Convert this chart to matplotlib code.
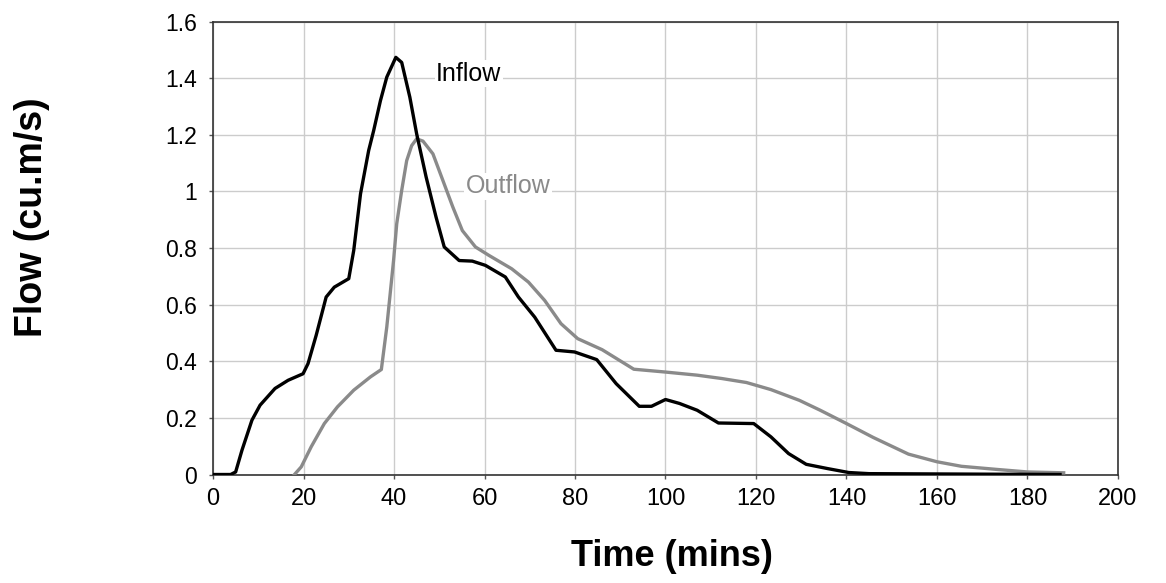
import matplotlib
matplotlib.use("Agg")
import matplotlib.pyplot as plt

# Inflow hydrograph (time in mins, flow in cu.m/s)
inflow_t = [0, 3.9, 5.0, 6.4, 8.6, 10.4, 13.7, 16.6, 19.9, 21.0, 22.8, 25.0, 26.8, 30.0,
            31.1, 32.6, 34.4, 35.5, 37.0, 38.4, 40.4, 41.7, 43.5, 45.0, 47.1, 49.3, 51.1,
            54.4, 57.3, 60.2, 64.6, 67.5, 71.1, 75.8, 79.9, 84.8, 89.1, 94.2, 96.9, 100.0,
            103.1, 107.0, 111.7, 119.5, 123.3, 127.2, 131.1, 135.8, 140.5, 145.0, 187.2]
inflow_q = [0, 0, 0.009, 0.086, 0.192, 0.245, 0.304, 0.333, 0.356, 0.392, 0.492, 0.627, 0.662, 0.692,
            0.792, 0.992, 1.145, 1.215, 1.321, 1.404, 1.474, 1.456, 1.333, 1.204, 1.051, 0.909, 0.804,
            0.756, 0.754, 0.739, 0.698, 0.627, 0.556, 0.439, 0.433, 0.406, 0.321, 0.241, 0.241, 0.265,
            0.251, 0.227, 0.182, 0.180, 0.133, 0.074, 0.036, 0.021, 0.007, 0.003, 0.0]

# Outflow hydrograph
outflow_t = [18.0, 19.5, 21.7, 24.6, 27.5, 31.1, 34.8, 37.2, 38.4, 39.9, 40.6, 41.7, 42.8, 43.9,
             45.0, 46.4, 48.6, 50.8, 53.0, 55.1, 58.0, 61.0, 66.0, 69.7, 73.3, 76.9, 80.6, 86.0,
             93.0, 100.0, 107.0, 112.5, 117.9, 123.3, 129.6, 134.2, 140.0, 145.9, 153.7, 160.0,
             165.4, 173.2, 180.0, 188.0]
outflow_q = [0, 0.027, 0.098, 0.18, 0.239, 0.298, 0.345, 0.371, 0.521, 0.756, 0.886, 1.004, 1.109, 1.162,
             1.186, 1.178, 1.133, 1.039, 0.945, 0.862, 0.804, 0.774, 0.727, 0.68, 0.615, 0.533, 0.48, 0.441,
             0.372, 0.362, 0.351, 0.339, 0.325, 0.30, 0.262, 0.227, 0.18, 0.131, 0.072, 0.045,
             0.029, 0.018, 0.009, 0.006]

x_ticks = [0, 20, 40, 60, 80, 100, 120, 140, 160, 180, 200]
y_ticks = [0, 0.2, 0.4, 0.6, 0.8, 1.0, 1.2, 1.4, 1.6]
y_tick_labels = ["0", "0.2", "0.4", "0.6", "0.8", "1", "1.2", "1.4", "1.6"]

plt.rcParams['font.family'] = ['Liberation Sans', 'DejaVu Sans']

fig = plt.figure(figsize=(11.66, 5.83), dpi=100)
ax = fig.add_axes([0.1827, 0.1861, 0.7761, 0.7767])

ax.plot(outflow_t, outflow_q, color="#8a8a8a", lw=2.4, solid_joinstyle="round", zorder=3)
ax.plot(inflow_t, inflow_q, color="black", lw=2.4, solid_joinstyle="round", zorder=4)

ax.set_xlim(0, 200)
ax.set_ylim(0, 1.6)
ax.set_xticks(x_ticks)
ax.set_yticks(y_ticks)
ax.set_yticklabels(y_tick_labels)
ax.grid(True, color="#cccccc", lw=1.0)
ax.set_axisbelow(True)
ax.tick_params(axis="both", length=3, width=1, color="#555555")
ax.tick_params(axis="y", labelsize=16.5, pad=8.5)
ax.tick_params(axis="x", labelsize=17, pad=6.5)
for s in ax.spines.values():
    s.set_color("#333333")
    s.set_linewidth(1.2)

ax.text(49.3, 1.3915, "Inflow", fontsize=18, color="black", va="baseline", ha="left",
        bbox=dict(facecolor="white", edgecolor="none", pad=1), zorder=5)
ax.text(55.9, 0.9936, "Outflow", fontsize=18, color="#8a8a8a", va="baseline", ha="left",
        bbox=dict(facecolor="white", edgecolor="none", pad=1), zorder=5)

ax.set_xlabel("Time (mins)", fontsize=26, fontweight="bold", va="center")
ax.set_ylabel("Flow (cu.m/s)", fontsize=27, fontweight="bold", va="center", ha="center")
ax.xaxis.set_label_coords(0.507, -0.180)
ax.yaxis.set_label_coords(-0.200, 0.569)

fig.savefig("out.png", dpi=100, facecolor="white")
